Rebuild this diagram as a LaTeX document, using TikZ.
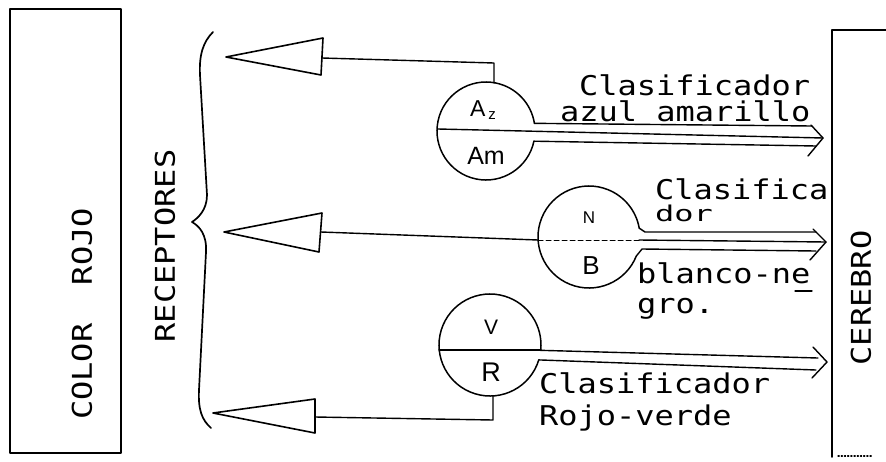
\documentclass[tikz,border=0pt]{standalone}
\usepackage{fontspec}
\usepackage{graphicx}
\usetikzlibrary{calc}
\newfontfamily\monof{DejaVu Sans Mono}
\newfontfamily\handf{Liberation Sans}
% plotter-style lettering: monospaced, slightly squat
\newcommand\plotter[1]{\scalebox{1}[0.85]{\monof\fontsize{32}{34}\selectfont #1}}
\newcommand\hand[2]{{\handf\fontsize{#1}{#1}\selectfont #2}}
\begin{document}
\begin{tikzpicture}[x=1pt,y=-1pt,line width=1.5pt,line join=round,line cap=round,
  txt/.style={inner sep=0pt,outer sep=0pt},
  lw/.style={txt,anchor=base west},
  vtxt/.style={txt,rotate=90},
  recept/.style={draw,line width=1.6pt},
  arrowline/.style={line width=1.4pt},
  link/.style={line width=1.4pt}]
\useasboundingbox (0,0) rectangle (886,461);

% ---- stimulus box ----
\node[draw,line width=1.5pt,minimum width=111pt,minimum height=444pt,anchor=north west,inner sep=0pt] (estimulo) at (9,8) {};
\node[vtxt] (rojo) at (82,314) {\plotter{COLOR\ \ ROJO}};

% ---- receptor brace ----
\draw[line width=1.7pt] (213,32) .. controls (203,42) and (199,55) .. (200,75)
  -- (207,195) .. controls (207,210) and (198,218) .. (192,222)
  .. controls (199,226) and (207,234) .. (206,252)
  -- (199,390) .. controls (198,410) and (202,420) .. (211,428);
\node[vtxt] (receptores) at (165,246) {\plotter{RECEPTORES}};

% ---- receptor cones ----
\coordinate (t1a) at (226,57); \coordinate (t1b) at (323,38); \coordinate (t1c) at (321,75);
\coordinate (t1) at (322,58);
\coordinate (t2a) at (224,232); \coordinate (t2b) at (322,213); \coordinate (t2c) at (319,252);
\coordinate (t2) at (321,232);
\coordinate (t3a) at (213,413); \coordinate (t3b) at (315,399); \coordinate (t3c) at (315,433);
\coordinate (t3) at (315,417);
\draw[recept] (t1a) -- (t1b) -- (t1c) -- cycle;
\draw[recept] (t2a) -- (t2b) -- (t2c) -- cycle;
\draw[recept] (t3a) -- (t3b) -- (t3c) -- cycle;

% ---- opponent cells ----
% blue / yellow
\coordinate (c1) at (486,131);
\draw (c1) ++(12:49) arc[start angle=12,end angle=351,radius=49];
\coordinate (c1top) at (494,83);
\coordinate (c1l) at (438,129);
\coordinate (c1u) at ($(c1)+(-9:49)$);
\coordinate (c1d) at ($(c1)+(12:49)$);
\node[txt] (az) at (483,110) {\hand{23}{A\kern3pt\raisebox{-3pt}{\hand{15}{z}}}};
\node[txt] (am) at (486,156) {\hand{25}{Am}};

% white / black
\coordinate (c2) at (589,237);
\draw (c2) ++(22:51) arc[start angle=22,end angle=350,radius=51];
\coordinate (c2l) at (538,240);
\coordinate (c2u) at ($(c2)+(-10:51)$);
\coordinate (c2d) at ($(c2)+(22:51)$);
\node[txt] (nn) at (589,218) {\hand{17}{N}};
\node[txt] (bb) at (591,266) {\hand{26}{B}};
\draw[line width=1pt,dash pattern=on 5pt off 3pt] (c2l) -- (639,240);

% green / red
\coordinate (c3) at (490,345);
\draw (c3) ++(17:51) arc[start angle=17,end angle=366,radius=51];
\coordinate (c3l) at (439,350);
\coordinate (c3r) at (541,350);
\coordinate (c3bot) at (493,396);
\coordinate (c3u) at ($(c3)+(6:51)$);
\coordinate (c3d) at ($(c3)+(17:51)$);
\node[txt] (vv) at (491,327) {\hand{21}{V}};
\node[txt] (rr) at (491,372) {\hand{27}{R}};
\draw[line width=1.3pt] (c3l) -- (c3r);

% ---- receptor to cell links ----
\draw[link] (t1) -- (494,63) -- (c1top);
\draw[link] (t2) -- (c2l);
\draw[link] (t3) -- (493,420) -- (c3bot);

% ---- channels to the brain ----
% channel 1
\coordinate (tip1) at (823,138);
\draw[arrowline] (c1u) -- (812,126);
\draw[arrowline] (c1l) -- (tip1);
\draw[arrowline] (c1d) -- (816,146);
\draw[arrowline] (811,125) -- (tip1) -- (808,156);
% channel 2
\coordinate (tip2) at (826,242);
\draw[arrowline] (c2u) -- (645,232) -- (816,232);
\draw[arrowline] (639,240) -- (tip2);
\draw[arrowline] (c2d) -- (642,249) -- (816,251);
\draw[arrowline] (813,229) -- (tip2) -- (810,260);
% channel 3
\coordinate (tip3) at (827,362);
\draw[arrowline] (c3u) -- (818,358);
\draw[arrowline] (c3d) -- (816,370);
\draw[arrowline] (813,347) -- (tip3) -- (812,378);

% ---- labels ----
\node[lw] (l1a) at (579,95) {\plotter{Clasificador}};
\node[lw] (l1b) at (560,121) {\plotter{azul amarillo}};
\node[lw] (l2a) at (655,199) {\plotter{Clasifica}};
\node[lw] (l2b) at (655,221) {\scalebox{1}[0.8]{\plotter{dor}}};
\node[lw] (l2c) at (637,283) {\plotter{blanco-ne}};
\draw[line width=1.3pt] (795,291) -- (812,291);
\node[lw] (l2d) at (637,313) {\plotter{gro.}};
\node[lw] (l3a) at (539,393) {\plotter{Clasificador}};
\node[lw] (l3b) at (539,425) {\plotter{Rojo-verde}};

% ---- brain ----
\coordinate (cb1) at (886,30);
\coordinate (cb2) at (832,30);
\coordinate (cb3) at (832,457);
\draw[line width=1.5pt] (cb1) -- (cb2) -- (cb3);
\draw[line width=1.2pt,dotted] (838,456) -- (872,456);
\node[vtxt] (cerebro) at (861,298) {\plotter{CEREBRO}};
\end{tikzpicture}
\end{document}
